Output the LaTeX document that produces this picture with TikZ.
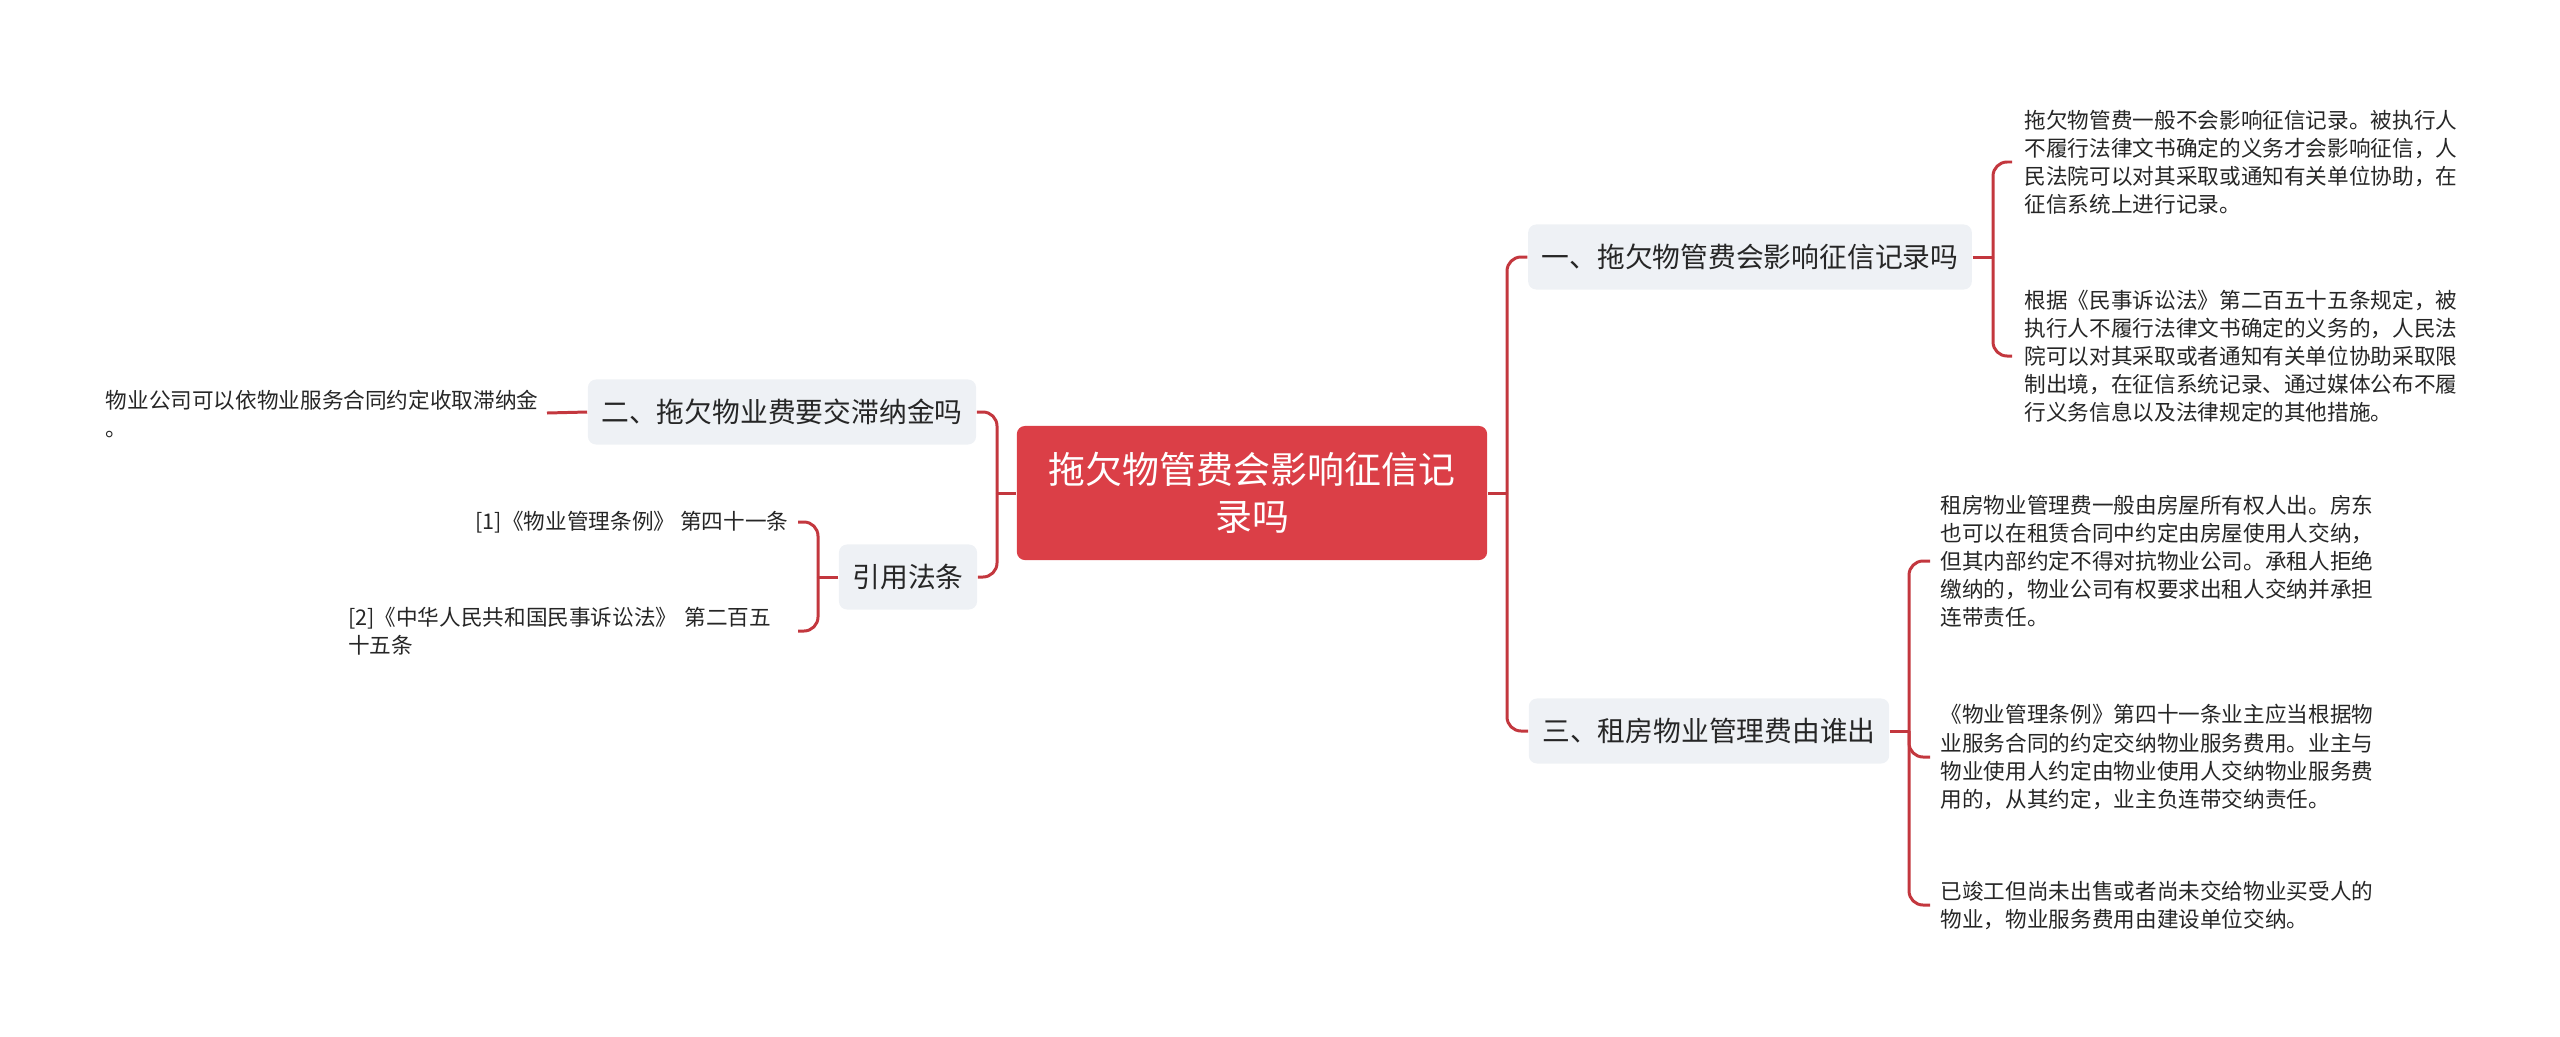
\documentclass[tikz,border=0pt]{standalone}
\usepackage{fontspec}
\setmainfont{Noto Sans CJK SC}
\usetikzlibrary{positioning}
\definecolor{MapRed}{HTML}{DB3F47}
\definecolor{MapLink}{HTML}{C3373E}
\definecolor{MapPale}{HTML}{EEF1F5}
\definecolor{MapInk}{HTML}{262626}
\newcommand{\rootfont}{\fontsize{10.5pt}{13.4pt}\selectfont}
\newcommand{\topicfont}{\fontsize{7.9pt}{9.5pt}\selectfont}
\newcommand{\notefont}{\fontsize{6.15pt}{7.97pt}\selectfont}
\tikzset{
  maproot/.style={
    fill=MapRed,
    rounded corners=2.3pt,
    align=center,
    text=white,
    font=\rootfont,
    minimum width=4.7cm,
    minimum height=1.34cm,
    inner sep=0pt
  },
  maptopic/.style={
    fill=MapPale,
    rounded corners=2.3pt,
    font=\topicfont,
    text=MapInk,
    minimum height=0.65cm,
    inner xsep=0.135cm,
    inner ysep=0pt
  },
  mapnote/.style={
    font=\notefont,
    text=MapInk,
    align=left,
    inner ysep=0pt
  },
  maplink/.style={draw=MapLink,line width=0.85pt,rounded corners=4pt}
}

\begin{document}
\begin{tikzpicture}[
  x=0.01cm, y=-0.01cm,
  noteR/.style={mapnote,anchor=west,inner xsep=0.12cm},
  noteL/.style={mapnote,anchor=east,inner xsep=0.09cm}
]
  \useasboundingbox (0,0) rectangle (2560,1036);

  \node[maproot] (root) at (1252,493) {拖欠物管费会影响征信记\\录吗};

  \node[maptopic] (credit) at (1750,257) {一、拖欠物管费会影响征信记录吗};
  \node[maptopic] (payer) at (1709,731) {三、租房物业管理费由谁出};
  \node[maptopic] (latefee) at (782,412) {二、拖欠物业费要交滞纳金吗};
  \node[maptopic] (laws) at (908,577) {引用法条};

  \node[noteR] (creditA) at (2012,162) {拖欠物管费一般不会影响征信记录。被执行人\\不履行法律文书确定的义务才会影响征信，人\\民法院可以对其采取或通知有关单位协助，在\\征信系统上进行记录。};
  \node[noteR] (creditB) at (2012,356) {根据《民事诉讼法》第二百五十五条规定，被\\执行人不履行法律文书确定的义务的，人民法\\院可以对其采取或者通知有关单位协助采取限\\制出境，在征信系统记录、通过媒体公布不履\\行义务信息以及法律规定的其他措施。};

  \node[noteR,inner xsep=0.1cm] (payerA) at (1930,561) {租房物业管理费一般由房屋所有权人出。房东\\也可以在租赁合同中约定由房屋使用人交纳，\\但其内部约定不得对抗物业公司。承租人拒绝\\缴纳的，物业公司有权要求出租人交纳并承担\\连带责任。};
  \node[noteR,inner xsep=0.1cm] (payerB) at (1930,757) {《物业管理条例》第四十一条业主应当根据物\\业服务合同的约定交纳物业服务费用。业主与\\物业使用人约定由物业使用人交纳物业服务费\\用的，从其约定，业主负连带交纳责任。};
  \node[noteR,inner xsep=0.1cm] (payerC) at (1930,905) {已竣工但尚未出售或者尚未交给物业买受人的\\物业，物业服务费用由建设单位交纳。};

  \node[noteL,inner xsep=0.08cm,text depth=0pt] (latefeeA) at (547,413) {物业公司可以依物业服务合同约定收取滞纳金\\。};

  \node[noteL] (lawA) at (798,522) {[1]《物业管理条例》 第四十一条};
  \node[noteL,text width=4.4cm] (lawB) at (798,631) {[2]《中华人民共和国民事诉讼法》 第二百五\\十五条};

  \coordinate (rbus) at (1507,493);
  \coordinate (lbus) at (997,493);
  \coordinate (cbus) at (1993,257);
  \coordinate (pbus) at (1909,731);
  \coordinate (lawbus) at (818,577);

  \draw[maplink] (root.east) -- (rbus);
  \draw[maplink] (rbus) |- (credit.west);
  \draw[maplink] (rbus) |- (payer.west);
  \draw[maplink] (root.west) -- (lbus);
  \draw[maplink] (lbus) |- (latefee.east);
  \draw[maplink] (lbus) |- (laws.east);

  \draw[maplink] (credit.east) -- (cbus);
  \draw[maplink] (cbus) |- (creditA.west);
  \draw[maplink] (cbus) |- (creditB.west);

  \draw[maplink] (payer.east) -- (pbus);
  \draw[maplink] (pbus) |- (payerA.west);
  \draw[maplink] (pbus) |- (payerB.west);
  \draw[maplink] (pbus) |- (payerC.west);

  \draw[maplink] (latefee.west) -- (latefeeA.east);

  \draw[maplink] (laws.west) -- (lawbus);
  \draw[maplink] (lawbus) |- (lawA.east);
  \draw[maplink] (lawbus) |- (lawB.east);
\end{tikzpicture}
\end{document}
